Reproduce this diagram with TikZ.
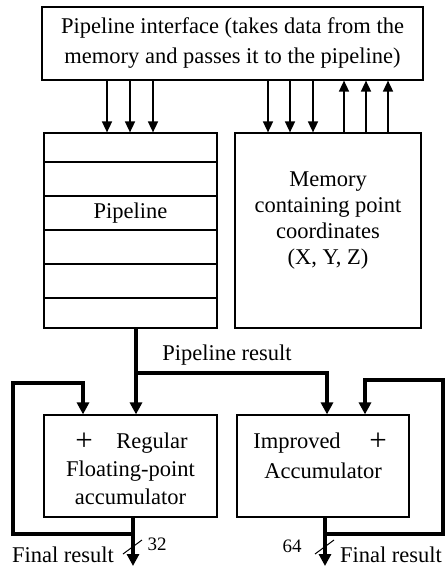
\documentclass[tikz,border=0pt]{standalone}
\usepackage{fontspec}
\setmainfont{Liberation Serif}
\usetikzlibrary{arrows.meta,calc,positioning}

\begin{document}
\begin{tikzpicture}[
        x=1pt, y=-1pt,
        font=\fontsize{22.5}{26}\selectfont,
        block/.style={draw, line width=1.2pt, inner sep=0pt, align=center},
        link/.style={line width=1.6pt, -{Triangle[width=10pt,length=11pt]}},
        bus/.style={line width=3.4pt, -{Triangle[width=12pt,length=12pt]}},
        width mark/.style={line width=1pt},
        small label/.style={font=\fontsize{19}{22}\selectfont},
        adder/.style={font=\fontsize{31}{31}\selectfont, inner sep=0pt}
    ]
    \useasboundingbox (0,0) rectangle (446,569);

    \node[block, minimum width=381pt, minimum height=73pt] (iface) at (232.5,43.5)
        {Pipeline interface (takes data from the\\[4pt]memory and passes it to the pipeline)};
    \node[block, minimum width=173pt, minimum height=195pt] (pipe) at (130.5,230.5) {};
    \node (pipetext) at (130.5,213) {Pipeline};
    \foreach \y in {162,196,230,264,298}
        \draw[line width=1.2pt] (pipe.west |- 0,\y) -- (pipe.east |- 0,\y);
    \node[block, minimum width=186pt, minimum height=195pt] (mem) at (328,230.5) {};
    \node[align=center] (memtext) at (328,220.5)
        {Memory\\containing point\\coordinates\\(X, Y, Z)};

    % data to the pipeline and to the memory, points back
    \foreach \x in {107,130,153}
        \draw[link] (iface.south -| \x,0) -- (pipe.north -| \x,0);
    \foreach \x in {268,290,313}
        \draw[link] (iface.south -| \x,0) -- (mem.north -| \x,0);
    \foreach \x in {344,366,388}
        \draw[link] (mem.north -| \x,0) -- (iface.south -| \x,0);

    \node[block, minimum width=173pt, minimum height=102pt] (racc) at (130.5,466) {};
    \node[block, minimum width=172pt, minimum height=102pt] (iacc) at (323,466) {};
    \node[adder] (rplus) at (84,442) {+};
    \node (rtext) at (152,443) {Regular};
    \node at (130.5,471) {Floating-point};
    \node at (130.5,497) {accumulator};
    \node (itext) at (297,443) {Improved};
    \node[adder] (iplus) at (378,442) {+};
    \node at (323,471) {Accumulator};

    % pipeline result
    \coordinate (split) at (136,373);
    \draw[bus] (pipe.south -| split) -- (racc.north -| split);
    \draw[bus] (split) -| (iacc.north -| 327,0);
    \node (restext) at (227,355) {Pipeline result};

    % outputs and feedback
    \coordinate (rout) at (133,534);
    \coordinate (iout) at (325,534);
    \draw[bus] (racc.south -| rout) -- (133,566) node[left=14pt, pos=0.77] {Final result};
    \draw[bus] (iacc.south -| iout) -- (325,566) node[right=10pt, pos=0.77] {Final result};
    \draw[bus, -] (rout) -| (13,383) -| (83,400);
    \draw[bus] (83,390) -- (racc.north -| 83,0);
    \draw[bus, -] (iout) -| (443,380) -| (365,400);
    \draw[bus] (365,390) -- (iacc.north -| 365,0);
    \draw[width mark] (123,554) -- (142,540);
    \draw[width mark] (315,554) -- (334,540);
    \node[small label] at (157,544) {32};
    \node[small label] at (292,546) {64};
\end{tikzpicture}
\end{document}
